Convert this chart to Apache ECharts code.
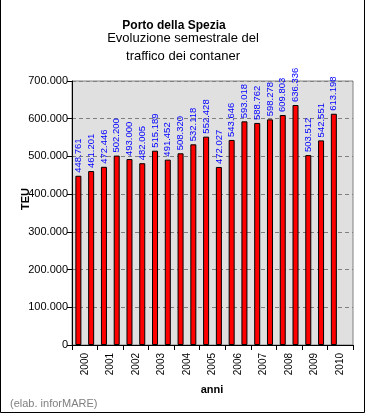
<!DOCTYPE html>
<html>
<head>
<meta charset="utf-8">
<script src="https://cdn.jsdelivr.net/npm/echarts@6/dist/echarts.min.js"></script>
<style>
html,body{margin:0;padding:0;background:#fff;}
#chart{width:365px;height:415px;}
</style>
</head>
<body>
<div id="chart"></div>
<script>
const halfYears = ['2000 I','2000 II','2001 I','2001 II','2002 I','2002 II','2003 I','2003 II','2004 I','2004 II','2005 I','2005 II','2006 I','2006 II','2007 I','2007 II','2008 I','2008 II','2009 I','2009 II','2010 I','2010 II'];
const teu = [448761, 461201, 472446, 502200, 493000, 482005, 515189, 491452, 508320, 532118, 552428, 472027, 543646, 593018, 588762, 598278, 609803, 636336, 503512, 542551, 613198, null];
const years = ['2000','2001','2002','2003','2004','2005','2006','2007','2008','2009','2010'];
const titleText = 'Porto della Spezia';
const subtitleLines = ['Evoluzione semestrale del', 'traffico dei contaner'];
const yName = 'TEU';
const xName = 'anni';
const footer = '(elab. inforMARE)';

const fmt = v => String(v).replace(/\B(?=(\d{3})+(?!\d))/g, '.');
const FONT = 'Arial, "Liberation Sans", sans-serif';

const chart = echarts.init(document.getElementById('chart'), null, {renderer: 'canvas'});
chart.setOption({
  animation: false,
  backgroundColor: '#ffffff',
  textStyle: {fontFamily: FONT},
  grid: {left: 72, right: 12, top: 81, bottom: 70, show: true, backgroundColor: '#e0e0e0', borderColor: '#808080', borderWidth: 1},
  xAxis: [
    {type: 'category', data: halfYears, show: false, boundaryGap: true, gridIndex: 0},
    {type: 'category', data: years, position: 'bottom', boundaryGap: true, gridIndex: 0,
     axisLine: {onZero: false, lineStyle: {color: '#000', width: 1}},
     axisTick: {show: true, length: 5, inside: false, lineStyle: {color: '#000'}},
     axisLabel: {rotate: 90, margin: 8, color: '#000', fontSize: 10, fontFamily: FONT},
     splitLine: {show: false}}
  ],
  yAxis: {
    type: 'value', min: 0, max: 700000, interval: 100000,
    axisLine: {show: true, lineStyle: {color: '#000'}},
    axisTick: {show: true, length: 5, lineStyle: {color: '#000'}},
    axisLabel: {formatter: v => fmt(v), color: '#000', fontSize: 11, margin: 4, fontFamily: FONT},
    splitLine: {show: true, lineStyle: {color: '#808080', type: [4, 3], width: 1}}
  },
  series: [{
    type: 'bar', data: teu, xAxisIndex: 0, barWidth: 6,
    itemStyle: {color: '#ff0000', borderColor: '#000', borderWidth: 1},
    label: {show: true, position: 'top', rotate: 90, align: 'left', verticalAlign: 'middle', distance: 3,
            color: '#0000ff', fontSize: 9.5, fontFamily: FONT, formatter: p => fmt(p.value)}
  }],
  graphic: [
    {type: 'text', x: 174, y: 26, style: {text: titleText, font: 'bold 12px ' + FONT, fill: '#000', textAlign: 'center', textVerticalAlign: 'middle'}},
    {type: 'text', x: 183, y: 38, style: {text: subtitleLines[0], font: '13px ' + FONT, fill: '#000', textAlign: 'center', textVerticalAlign: 'middle'}},
    {type: 'text', x: 183, y: 56, style: {text: subtitleLines[1], font: '13px ' + FONT, fill: '#000', textAlign: 'center', textVerticalAlign: 'middle'}},
    {type: 'text', x: 26, y: 199, rotation: Math.PI / 2, style: {text: yName, font: 'bold 11px ' + FONT, fill: '#000', textAlign: 'center', textVerticalAlign: 'middle'}},
    {type: 'text', x: 212, y: 390, style: {text: xName, font: 'bold 11px ' + FONT, fill: '#000', textAlign: 'center', textVerticalAlign: 'middle'}},
    {type: 'text', x: 10, y: 404, style: {text: footer, font: '11px ' + FONT, fill: '#808080', textAlign: 'left', textVerticalAlign: 'middle'}},
    {type: 'polyline', shape: {points: [[0.5, 0], [0.5, 412.5], [364.5, 412.5], [364.5, 0]]}, style: {stroke: '#000', lineWidth: 1, fill: null}}
  ]
});
</script>
</body>
</html>
